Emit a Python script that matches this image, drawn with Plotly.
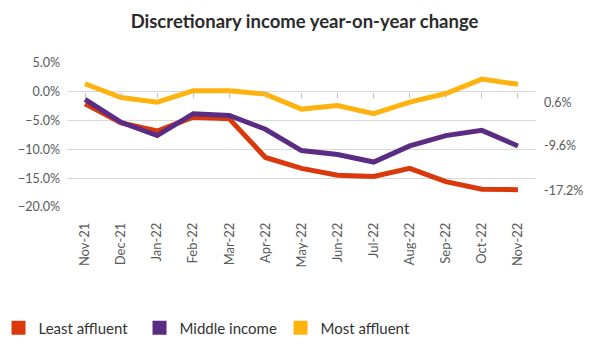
import plotly.graph_objects as go

months = ["Nov-21", "Dec-21", "Jan-22", "Feb-22", "Mar-22", "Apr-22", "May-22",
          "Jun-22", "Jul-22", "Aug-22", "Sep-22", "Oct-22", "Nov-22"]
least_affluent = [-2.1, -5.4, -6.8, -4.4, -4.7, -11.4, -13.3, -14.5, -14.7, -13.3, -15.6, -16.9, -17.0]
middle_income = [-1.3, -5.3, -7.6, -3.8, -4.1, -6.5, -10.2, -10.9, -12.2, -9.4, -7.6, -6.7, -9.4]
most_affluent = [1.4, -1.0, -1.8, 0.2, 0.2, -0.4, -3.0, -2.4, -3.8, -1.8, -0.3, 2.2, 1.3]
end_labels = ["0.6%", "-9.6%", "-17.2%"]

series = [
    ("Least affluent", least_affluent, "#DA3A0B"),
    ("Middle income", middle_income, "#5B2C84"),
    ("Most affluent", most_affluent, "#FFB30F"),
]

fig = go.Figure()
for name, vals, col in series:
    fig.add_trace(go.Scatter(x=months, y=vals, mode="lines", name=name,
                             line=dict(color=col, width=5), showlegend=False,
                             legendgroup=name))
for name, vals, col in series:
    fig.add_trace(go.Scatter(x=[None], y=[None], mode="markers", name=name,
                             marker=dict(symbol="square", size=14, color=col),
                             legendgroup=name, showlegend=True))
fig.add_trace(go.Scatter(x=months, y=[0] * len(months), xaxis="x2", mode="lines",
                         line=dict(width=0, color="rgba(0,0,0,0)"), showlegend=False,
                         hoverinfo="skip"))

label_y = [-1.9, middle_income[-1] + 0.1, least_affluent[-1] - 0.1]
for txt, yv in zip(end_labels, label_y):
    fig.add_annotation(x=1.012, xref="paper", y=yv, yref="y", text=txt,
                       showarrow=False, xanchor="left", yanchor="middle",
                       font=dict(family="Lato", size=12.5, color="#595959"))

fig.update_layout(
    width=593, height=349,
    margin=dict(l=59, r=65, t=55, b=150, autoexpand=False),
    paper_bgcolor="white", plot_bgcolor="white",
    title=dict(text="<b>Discretionary income year-on-year change</b>", x=0.5, xanchor="center",
               y=0.96, yanchor="middle",
               font=dict(family="Lato", size=18.5, color="#2b2b2b")),
    xaxis=dict(type="category", categoryorder="array", categoryarray=months,
               range=[-0.5, 12.5], showgrid=False, tickangle=-90, ticks="",
               ticklabelstandoff=12,
               tickfont=dict(family="Lato", size=13, color="#595959"),
               showline=False, zeroline=False),
    xaxis2=dict(type="category", categoryorder="array", categoryarray=months,
                range=[-0.5, 12.5], overlaying="x", anchor="free", position=0.8,
                showticklabels=False, ticks="outside", ticklen=5, tickcolor="#bfbfbf",
                tickwidth=1, showgrid=False, showline=False, zeroline=False),
    yaxis=dict(range=[-20, 5], dtick=5, tickformat=".1f", ticksuffix="%",
               showgrid=True, gridcolor="#d9d9d9", gridwidth=1, zeroline=False,
               tickfont=dict(family="Lato", size=12.5, color="#595959"),
               ticklabelstandoff=6),
    legend=dict(orientation="h", x=-0.146, xanchor="left", y=-0.84, yanchor="middle",
                font=dict(family="Lato", size=15, color="#333333"),
                entrywidth=96, entrywidthmode="pixels", itemwidth=30),
)

fig.write_html("out.html")
